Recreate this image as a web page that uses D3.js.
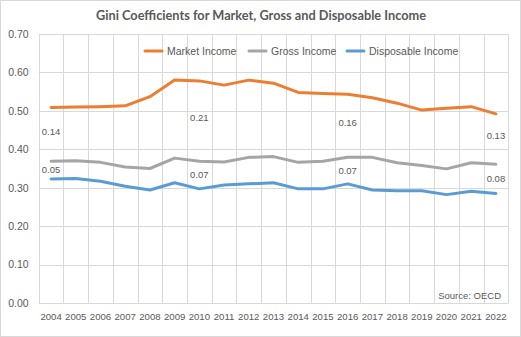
<!DOCTYPE html>
<html><head><meta charset="utf-8">
<script src="https://cdn.jsdelivr.net/npm/d3@7/dist/d3.min.js"></script>
<style>body{margin:0;background:#fff;} svg{display:block;}</style>
</head><body>
<svg id="c" width="521" height="337"></svg>
<script>
const years = ["2004","2005","2006","2007","2008","2009","2010","2011","2012","2013","2014","2015","2016","2017","2018","2019","2020","2021","2022"];
const market = [0.509,0.510,0.511,0.513,0.537,0.580,0.578,0.567,0.580,0.572,0.548,0.545,0.543,0.534,0.520,0.502,0.507,0.511,0.492];
const gross = [0.369,0.370,0.366,0.354,0.350,0.377,0.369,0.367,0.379,0.381,0.366,0.369,0.379,0.379,0.365,0.358,0.349,0.365,0.361];
const disposable = [0.323,0.324,0.317,0.304,0.294,0.313,0.297,0.307,0.310,0.313,0.297,0.297,0.310,0.294,0.292,0.292,0.282,0.291,0.285];
const yTicks = [0,0.1,0.2,0.3,0.4,0.5,0.6,0.7];
const labelYears = ["2004","2010","2016","2022"];
const upperLabels = ["0.14","0.21","0.16","0.13"];
const lowerLabels = ["0.05","0.07","0.07","0.08"];
const seriesNames = ["Market Income","Gross Income","Disposable Income"];
const colors = ["#ED7D31","#A5A5A5","#5B9BD5"];

const svg = d3.select("#c");
const font = "'Liberation Sans', Arial, sans-serif";
svg.append("rect").attr("x",0.5).attr("y",0.5).attr("width",520).attr("height",336)
  .attr("fill","#fff").attr("stroke","#d9d9d9");

const x = d3.scaleBand().domain(years).range([38.7,508.3]);
const y = d3.scaleLinear().domain([0,0.7]).range([303,34]);
const cx = d => x(d)+x.bandwidth()/2;

// gridlines
const g = svg.append("g");
g.selectAll("line.h").data(yTicks).join("line")
  .attr("x1",x.range()[0]).attr("x2",x.range()[1])
  .attr("y1",d=>Math.round(y(d))+0.5).attr("y2",d=>Math.round(y(d))+0.5)
  .attr("stroke","#d9d9d9").attr("stroke-width",1);
const bounds = years.map(d=>x(d)).concat([x.range()[1]]);
g.selectAll("line.v").data(bounds).join("line")
  .attr("x1",d=>Math.round(d)+0.5).attr("x2",d=>Math.round(d)+0.5)
  .attr("y1",y(0.7)).attr("y2",y(0))
  .attr("stroke","#d9d9d9").attr("stroke-width",1);

// y axis
const yAxis = d3.axisLeft(y).tickValues(yTicks).tickFormat(d3.format(".2f")).tickSize(0).tickPadding(10);
const ya = svg.append("g").attr("transform","translate(38.7,0)").call(yAxis);
ya.select(".domain").remove();
ya.selectAll("text").attr("font-family",font).attr("font-size","10.5px").attr("fill","#595959");

// x axis
const xAxis = d3.axisBottom(x).tickSize(0).tickPadding(10);
const xa = svg.append("g").attr("transform","translate(0,303)").call(xAxis);
xa.select(".domain").remove();
xa.selectAll("text").attr("font-family",font).attr("font-size","9.6px").attr("fill","#595959");

// lines
const line = d3.line().x((d,i)=>cx(years[i])).y(d=>y(d));
[market,gross,disposable].forEach((s,k)=>{
  svg.append("path").datum(s).attr("d",line).attr("fill","none")
    .attr("stroke",colors[k]).attr("stroke-width",3).attr("stroke-linejoin","round").attr("stroke-linecap","round");
});

// data labels
labelYears.forEach((yr,j)=>{
  const i = years.indexOf(yr);
  svg.append("text").attr("x",cx(yr)).attr("y",(y(market[i])+y(gross[i]))/2 - 3).attr("dy","0.35em")
    .attr("text-anchor","middle").attr("font-family",font).attr("font-size","9.5px").attr("fill","#595959").text(upperLabels[j]);
  svg.append("text").attr("x",cx(yr)).attr("y",(y(gross[i])+y(disposable[i]))/2).attr("dy","0.35em")
    .attr("text-anchor","middle").attr("font-family",font).attr("font-size","9.5px").attr("fill","#595959").text(lowerLabels[j]);
});

// title
svg.append("text").attr("x",261).attr("y",20).attr("text-anchor","middle")
  .attr("font-family","Lato, 'Liberation Sans', sans-serif").attr("font-size","14px").attr("font-weight","bold").attr("fill","#595959")
  .attr("textLength",330).attr("lengthAdjust","spacingAndGlyphs")
  .text("Gini Coefficients for Market, Gross and Disposable Income");

// legend
const legX = [145,249,347];
seriesNames.forEach((n,k)=>{
  svg.append("line").attr("x1",legX[k]).attr("x2",legX[k]+17).attr("y1",51).attr("y2",51)
    .attr("stroke",colors[k]).attr("stroke-width",3).attr("stroke-linecap","round");
  svg.append("text").attr("x",legX[k]+22).attr("y",51).attr("dy","0.35em")
    .attr("font-family",font).attr("font-size","10.5px").attr("fill","#595959").text(n);
});

// source
svg.append("text").attr("x",501).attr("y",296).attr("dy","0.35em").attr("text-anchor","end")
  .attr("font-family",font).attr("font-size","9.5px").attr("fill","#595959").text("Source: OECD");
</script>
</body></html>
